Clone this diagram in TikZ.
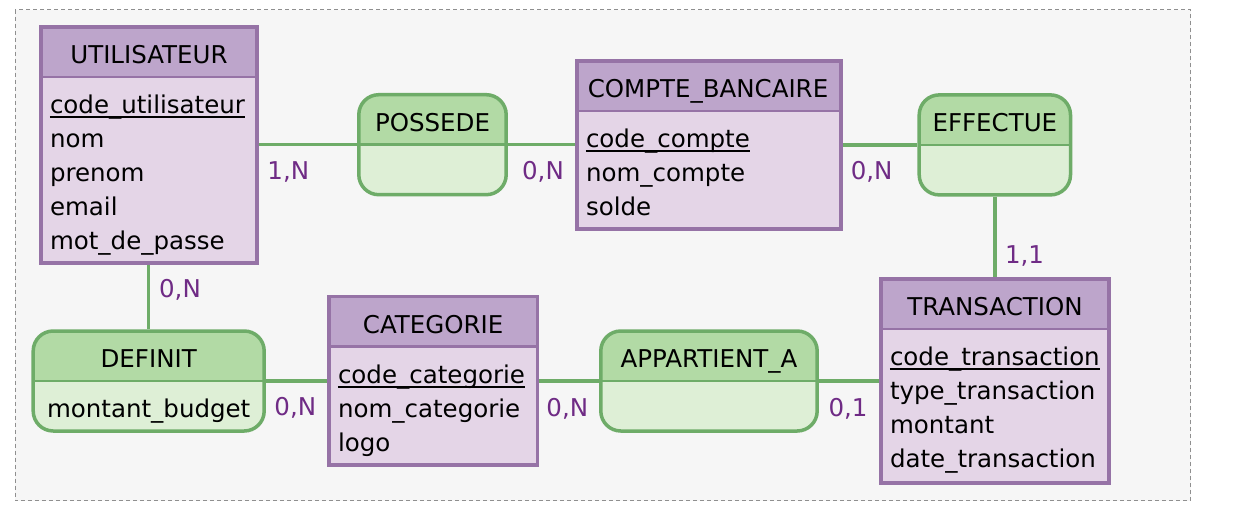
\documentclass[tikz,border=0pt]{standalone}
\usepackage{fontspec}
\setmainfont{DejaVu Sans}
\definecolor{entline}{HTML}{9673A6}
\definecolor{enthead}{HTML}{BDA5CB}
\definecolor{entbody}{HTML}{E4D5E7}
\definecolor{relline}{HTML}{6EAC68}
\definecolor{relhead}{HTML}{B2DAA5}
\definecolor{relbody}{HTML}{DEEFD6}
\definecolor{bgfill}{HTML}{F6F6F6}
\definecolor{bgline}{HTML}{8F8F8F}
\definecolor{card}{HTML}{6F2B85}
\begin{document}
\begin{tikzpicture}[x=1pt,y=-1pt,
  every node/.style={font=\fontsize{24.5}{29}\selectfont, inner sep=0pt},
  ent/.style={rectangle, draw=entline, fill=entbody, line width=3.5pt,
    path picture={
      \fill[enthead, sharp corners] (path picture bounding box.north west) rectangle ([yshift=-50pt]path picture bounding box.north east);
      \draw[entline, line width=2.5pt] ([yshift=-50pt]path picture bounding box.north west) -- ([yshift=-50pt]path picture bounding box.north east);
    }},
  rel/.style={rectangle, rounded corners=20pt, draw=relline, fill=relbody, line width=3.5pt,
    path picture={
      \fill[relhead, sharp corners] (path picture bounding box.north west) rectangle ([yshift=-50pt]path picture bounding box.north east);
      \draw[relline, line width=2.5pt, sharp corners] ([yshift=-50pt]path picture bounding box.north west) -- ([yshift=-50pt]path picture bounding box.north east);
    }},
  conn/.style={draw=relline, line width=3.5pt},
  ttl/.style={anchor=base, text=black},
  attr/.style={anchor=base west, text=black},
  uline/.style={draw=black, line width=2pt},
  cardlbl/.style={anchor=base, text=card}
]
\useasboundingbox (0,0) rectangle (1256,522);
\draw[bgline, fill=bgfill, line width=1pt, dash pattern=on 4pt off 3pt] (15,9.5) rectangle (1190.5,500.5);

% entities
\node[ent, minimum width=216.4pt, minimum height=236pt] (util) at (149,144.8) {};
\node[ent, minimum width=264pt, minimum height=168pt] (compte) at (708.8,144.8) {};
\node[ent, minimum width=228.4pt, minimum height=204.4pt] (trans) at (995,381) {};
\node[ent, minimum width=208.7pt, minimum height=168.7pt] (categ) at (433.15,380.85) {};
% relations
\node[rel, minimum width=147.4pt, minimum height=100pt] (possede) at (432.5,144.7) {};
\node[rel, minimum width=151.3pt, minimum height=100pt] (effectue) at (994.85,144.9) {};
\node[rel, minimum width=216.4pt, minimum height=100pt] (appart) at (709,381) {};
\node[rel, minimum width=231pt, minimum height=100pt] (definit) at (148.7,381) {};

% connectors
\draw[conn] (util.east |- possede.west) -- (possede.west);
\draw[conn] (possede.east) -- (compte.west |- possede.east);
\draw[conn] (compte.east |- effectue.west) -- (effectue.west);
\draw[conn] (effectue.south) -- (trans.north -| effectue.south);
\draw[conn] (util.south -| definit.north) -- (definit.north);
\draw[conn] (definit.east) -- (categ.west |- definit.east);
\draw[conn] (categ.east |- appart.west) -- (appart.west);
\draw[conn] (appart.east) -- (trans.west |- appart.east);

% titles
\node[ttl] (util-t) at (149,63.3) {UTILISATEUR};
\node[ttl] (compte-t) at (708,97.3) {COMPTE\_BANCAIRE};
\node[ttl] (trans-t) at (995,315) {TRANSACTION};
\node[ttl] (categ-t) at (433.15,333.3) {CATEGORIE};
\node[ttl] (possede-t) at (432.5,131.7) {POSSEDE};
\node[ttl] (effectue-t) at (994.85,131.7) {EFFECTUE};
\node[ttl] (appart-t) at (709,367) {APPARTIENT\_A};
\node[ttl] (definit-t) at (148.7,367.3) {DEFINIT};
\node[ttl] (definit-a) at (148.7,417) {montant\_budget};

% attributes UTILISATEUR
\node[attr] (u1) at (49.8,113) {code\_utilisateur};
\node[attr] (u2) at (49.8,147) {nom};
\node[attr] (u3) at (49.8,181) {prenom};
\node[attr] (u4) at (49.8,215) {email};
\node[attr] (u5) at (49.8,249) {mot\_de\_passe};
\draw[uline] ([yshift=-4pt]u1.base west) -- ([yshift=-4pt]u1.base east);
% attributes COMPTE_BANCAIRE
\node[attr] (c1) at (585.8,147.3) {code\_compte};
\node[attr] (c2) at (585.8,181.3) {nom\_compte};
\node[attr] (c3) at (585.8,215.3) {solde};
\draw[uline] ([yshift=-4pt]c1.base west) -- ([yshift=-4pt]c1.base east);
% attributes TRANSACTION
\node[attr] (t1) at (889.8,365) {code\_transaction};
\node[attr] (t2) at (889.8,399) {type\_transaction};
\node[attr] (t3) at (889.8,433) {montant};
\node[attr] (t4) at (889.8,467) {date\_transaction};
\draw[uline] ([yshift=-4pt]t1.base west) -- ([yshift=-4pt]t1.base east);
% attributes CATEGORIE
\node[attr] (k1) at (337.8,383) {code\_categorie};
\node[attr] (k2) at (337.8,417) {nom\_categorie};
\node[attr] (k3) at (337.8,451) {logo};
\draw[uline] ([yshift=-4pt]k1.base west) -- ([yshift=-4pt]k1.base east);

% cardinalities
\node[cardlbl] (l1) at (288.3,179) {1,N};
\node[cardlbl] (l2) at (543,179.3) {0,N};
\node[cardlbl] (l3) at (871.7,179.3) {0,N};
\node[cardlbl] (l4) at (1024.5,263.3) {1,1};
\node[cardlbl] (l5) at (180,297.3) {0,N};
\node[cardlbl] (l6) at (295.3,415) {0,N};
\node[cardlbl] (l7) at (567.3,416) {0,N};
\node[cardlbl] (l8) at (848,416) {0,1};
\end{tikzpicture}
\end{document}
